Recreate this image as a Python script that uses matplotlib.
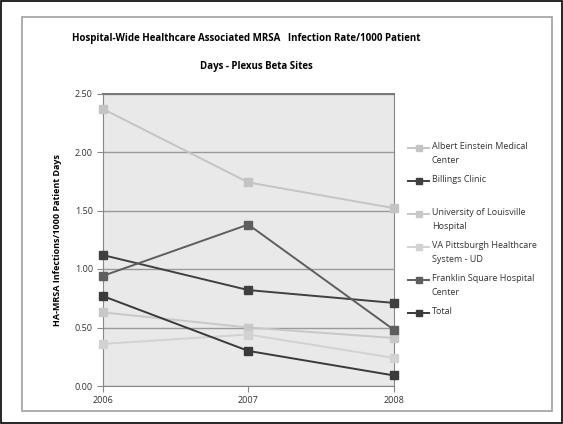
import numpy as np
import matplotlib.pyplot as plt
from matplotlib.patches import Rectangle
from matplotlib.lines import Line2D

years = ['2006', '2007', '2008']

einstein    = [2.37, 1.74, 1.52]
billings    = [1.12, 0.82, 0.71]
louisville  = [0.63, 0.50, 0.41]
va_pitt     = [0.36, 0.44, 0.24]
franklin    = [0.94, 1.38, 0.48]
total       = [0.77, 0.30, 0.09]

names = ['Albert Einstein Medical\nCenter',
         'Billings Clinic',
         'University of Louisville\nHospital',
         'VA Pittsburgh Healthcare\nSystem - UD',
         'Franklin Square Hospital\nCenter',
         'Total']

yticks = [0.0, 0.5, 1.0, 1.5, 2.0, 2.5]

plt.rcParams['font.family'] = ['Open Sans', 'DejaVu Sans']

W, H = 563, 424
fig = plt.figure(figsize=(W/100, H/100), dpi=100)

# outer black frame and inner grey chart border
fig.patches.append(Rectangle((0.002, 0.002), 0.996, 0.996, transform=fig.transFigure,
                             fill=False, ec='black', lw=1.2))
fig.patches.append(Rectangle((22/W, 1-411/H), 530/W, 394/H, transform=fig.transFigure,
                             fill=False, ec='#a0a0a0', lw=1.2))

ax = fig.add_axes([102.5/W, 1-386/H, 291.5/W, 292.5/H])
ax.set_facecolor('#e9e9e9')

x = np.arange(len(years))
series = [einstein, billings, louisville, va_pitt, franklin, total]
colors = ['#c4c4c4', '#404040', '#c8c8c8', '#d2d2d2', '#5e5e5e', '#3a3a3a']

for vals, c in zip(series, colors):
    ax.plot(x, vals, color=c, lw=1.4, marker='s', ms=5.5, mfc=c, mec=c,
            clip_on=False, zorder=3)

ax.set_xlim(0, 2)
ax.set_ylim(0, 2.5)
ax.set_yticks(yticks)
ax.set_yticklabels(['{:.2f}'.format(v) for v in yticks], fontsize=6.5, color='#333333')
ax.set_xticks(x)
ax.set_xticklabels(years, fontsize=6.5, color='#333333')
ax.yaxis.grid(True, color='#9a9a9a', lw=1.0)
ax.set_axisbelow(True)
ax.tick_params(axis='y', length=4, color='#888888', pad=3)
ax.tick_params(axis='x', length=4, color='#888888', pad=3)

ax.spines['top'].set_color('#777777')
ax.spines['top'].set_linewidth(1.4)
for s in ['left', 'bottom', 'right']:
    ax.spines[s].set_color('#888888')

ax.set_ylabel('HA-MRSA Infections/1000 Patient Days', fontsize=6.5,
              fontweight='bold', labelpad=9)

fig.text(246/W, 1-38/H, 'Hospital-Wide Healthcare Associated MRSA   Infection Rate/1000 Patient',
         ha='center', va='center', fontsize=7.0, fontweight='bold')
fig.text(256/W, 1-66/H, 'Days - Plexus Beta Sites',
         ha='center', va='center', fontsize=7.0, fontweight='bold')

# legend: one slot per series, handle level with the first text line
for i, (n, c) in enumerate(zip(names, colors)):
    yy = 1 - (148 + 33*i)/H
    fig.lines.append(Line2D([407/W, 430/W], [yy, yy], transform=fig.transFigure,
                            color=c, lw=1.4, solid_capstyle='butt'))
    fig.lines.append(Line2D([418.5/W], [yy], transform=fig.transFigure,
                            color=c, marker='s', ms=4, ls='none'))
    fig.text(432/W, yy + 6/H, n, ha='left', va='top', fontsize=6.5,
             color='#333333', linespacing=1.75)

fig.savefig('out.png', dpi=100)
